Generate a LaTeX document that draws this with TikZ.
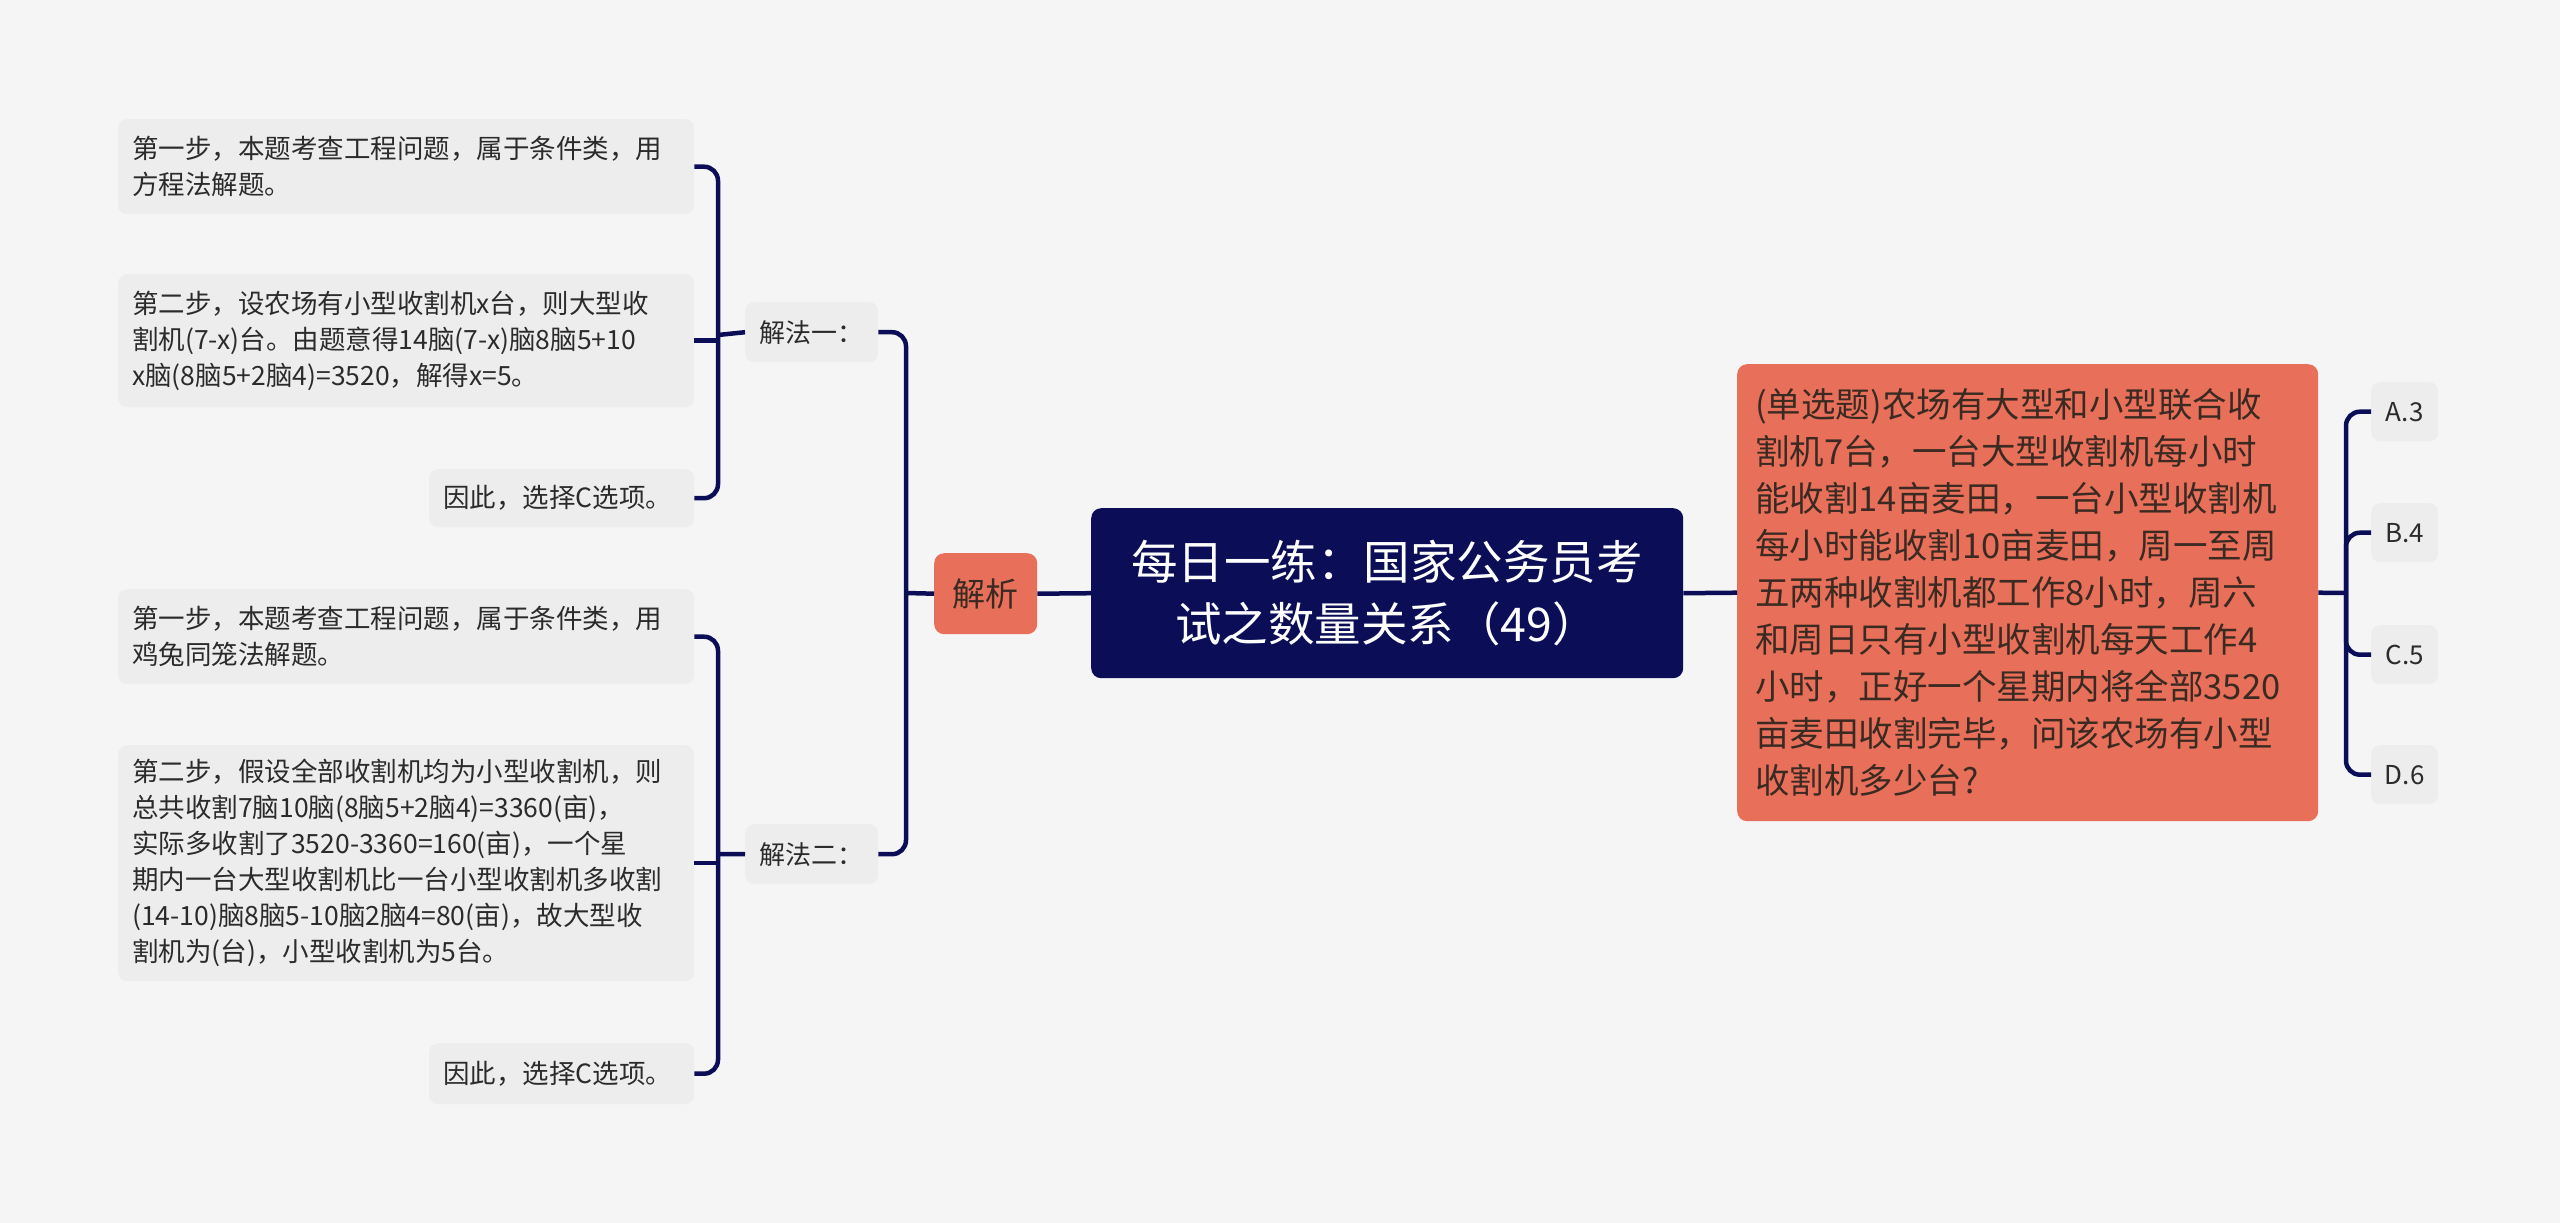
\documentclass[tikz,border=0pt]{standalone}
\usepackage{fontspec}
\setmainfont{Noto Sans CJK SC}
\definecolor{bg}{HTML}{F5F5F5}
\definecolor{leaf}{HTML}{EDEDED}
\definecolor{navy}{HTML}{0B0E57}
\definecolor{salmon}{HTML}{E8705A}
\definecolor{ink}{HTML}{2B2B2B}
\definecolor{qink}{HTML}{3A2A22}
\begin{document}
\begin{tikzpicture}[x=1pt,y=-1pt,
 conn/.style={draw=navy,line width=4.5pt,rounded corners=14pt},
 leafbox/.style={fill=leaf,rounded corners=9pt,inner xsep=14pt,inner ysep=0pt,align=left,anchor=north west,font=\fontsize{26.5}{36}\selectfont,text=ink},
 subbox/.style={fill=leaf,rounded corners=9pt,inner sep=0pt,align=center,anchor=north west,font=\fontsize{26}{32}\selectfont,text=ink},
 rootbox/.style={fill=navy,rounded corners=10pt,inner sep=0pt,align=center,anchor=north west,font=\fontsize{46.5}{62}\selectfont,text=white},
 salbox/.style={fill=salmon,rounded corners=10pt,anchor=north west,text=qink},
]
\fill[bg] (0,0) rectangle (2560,1223);
\useasboundingbox (0,0) rectangle (2560,1223);

% root
\node[rootbox,minimum width=592,minimum height=170] (root) at (1091,508)
 {每日一练：国家公务员考\\试之数量关系（49）};
% analysis
\node[salbox,inner sep=0pt,minimum width=103,minimum height=81,font=\fontsize{33}{40}\selectfont] (jx) at (934,553) {解析};
% methods
\node[subbox,minimum width=133,minimum height=60] (s1) at (745,302) {解法一：};
\node[subbox,minimum width=133,minimum height=60] (s2) at (745,824) {解法二：};
% leaves method 1
\node[leafbox,minimum width=576,minimum height=95,text width=548] (L1a) at (118,119)
 {第一步，本题考查工程问题，属于条件类，用\\方程法解题。};
\node[leafbox,minimum width=576,minimum height=133,text width=548] (L1b) at (118,274)
 {第二步，设农场有小型收割机x台，则大型收\\割机(7-x)台。由题意得14脑(7-x)脑8脑5+10\\x脑(8脑5+2脑4)=3520，解得x=5。};
\node[leafbox,minimum width=265,minimum height=58,text width=237] (L1c) at (429,469)
 {因此，选择C选项。};
% leaves method 2
\node[leafbox,minimum width=576,minimum height=95,text width=548] (L2a) at (118,589)
 {第一步，本题考查工程问题，属于条件类，用\\鸡兔同笼法解题。};
\node[leafbox,minimum width=576,minimum height=236,text width=548] (L2b) at (118,745)
 {第二步，假设全部收割机均为小型收割机，则\\总共收割7脑10脑(8脑5+2脑4)=3360(亩)，\\实际多收割了3520-3360=160(亩)，一个星\\期内一台大型收割机比一台小型收割机多收割\\(14-10)脑8脑5-10脑2脑4=80(亩)，故大型收\\割机为(台)，小型收割机为5台。};
\node[leafbox,minimum width=265,minimum height=61,text width=237] (L2c) at (429,1043)
 {因此，选择C选项。};
% question
\node[salbox,inner xsep=18pt,inner ysep=0pt,minimum width=581,minimum height=457,text width=545,align=left,font=\fontsize{34.5}{47}\selectfont] (q) at (1737,364)
 {(单选题)农场有大型和小型联合收\\割机7台，一台大型收割机每小时\\能收割14亩麦田，一台小型收割机\\每小时能收割10亩麦田，周一至周\\五两种收割机都工作8小时，周六\\和周日只有小型收割机每天工作4\\小时，正好一个星期内将全部3520\\亩麦田收割完毕，问该农场有小型\\收割机多少台?};
% options
\node[subbox,minimum width=67,minimum height=59] (oA) at (2371,382) {A.3};
\node[subbox,minimum width=67,minimum height=59] (oB) at (2371,503) {B.4};
\node[subbox,minimum width=67,minimum height=59] (oC) at (2371,625) {C.5};
\node[subbox,minimum width=67,minimum height=59] (oD) at (2371,745) {D.6};

% junction coordinates
\coordinate (cj) at (906,593);
\coordinate (b1) at (718,335);
\coordinate (b2) at (718,854);
\coordinate (co) at (2346,593);

% connectors
\draw[conn] (jx.east) -- (root.west);
\draw[conn] (root.east) -- (q.west);
\draw[conn] (jx.west) -- (cj);
\draw[conn] (s1.east) -| (cj);
\draw[conn] (s2.east) -| (cj);
\draw[conn] (s1.west) -- (b1);
\draw[conn] (L1a.east) -| (b1);
\draw[conn] (L1b.east) -- (L1b.east -| b1);
\draw[conn] (L1c.east) -| (b1);
\draw[conn] (s2.west) -- (b2);
\draw[conn] (L2a.east) -| (b2);
\draw[conn] (L2b.east) -- (L2b.east -| b2);
\draw[conn] (L2c.east) -| (b2);
\draw[conn] (q.east) -- (co);
\draw[conn] (oA.west) -| (co);
\draw[conn] (oB.west) -| (co);
\draw[conn] (oC.west) -| (co);
\draw[conn] (oD.west) -| (co);
\end{tikzpicture}
\end{document}
